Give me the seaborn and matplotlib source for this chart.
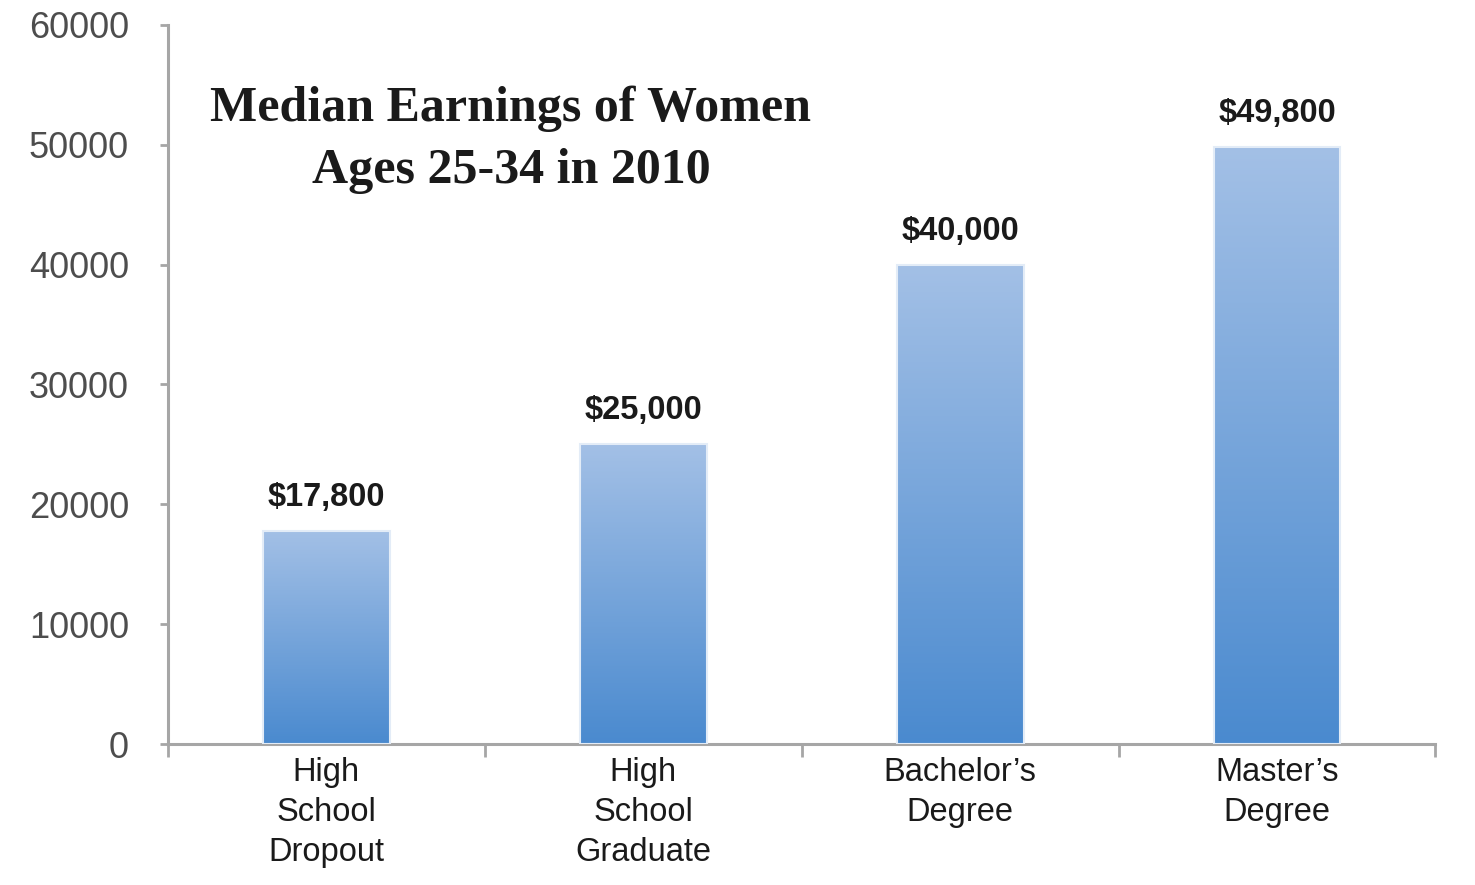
import matplotlib
matplotlib.use("Agg")
import matplotlib.pyplot as plt
import seaborn as sns
import numpy as np
import pandas as pd
from matplotlib.colors import LinearSegmentedColormap

# Data
categories = ["High\nSchool\nDropout", "High\nSchool\nGraduate",
              "Bachelor\u2019s\nDegree", "Master\u2019s\nDegree"]
earnings = [17800, 25000, 40000, 49800]
value_labels = ["$17,800", "$25,000", "$40,000", "$49,800"]
y_ticks = [0, 10000, 20000, 30000, 40000, 50000, 60000]
title = "Median Earnings of Women\nAges 25-34 in 2010"


def add_gradient(ax, cmap):
    # replace flat bar fill with a vertical gradient clipped to each bar
    grad = np.linspace(0, 1, 256).reshape(-1, 1)
    for patch in ax.patches:
        x0, y0 = patch.get_x(), patch.get_y()
        w, h = patch.get_width(), patch.get_height()
        im = ax.imshow(grad, cmap=cmap, aspect="auto", origin="lower",
                       extent=(x0, x0 + w, y0, y0 + h), zorder=2)
        im.set_clip_path(patch)
        patch.set_facecolor("none")
        patch.set_edgecolor("#e3ecf7")
        patch.set_linewidth(1.5)
        patch.set_zorder(3)


def main() -> None:
    sns.set_theme(style="white")
    plt.rcParams["font.family"] = ["Liberation Sans", "DejaVu Sans"]

    fig = plt.figure(figsize=(14.75, 8.85), dpi=100)
    ax = fig.add_axes([0.1139, 0.1593, 0.8593, 0.8125])

    df = pd.DataFrame({"level": categories, "earnings": earnings})
    sns.barplot(data=df, x="level", y="earnings", ax=ax, width=0.4,
                color="#6a9bd6")

    bar_cmap = LinearSegmentedColormap.from_list("bar", ["#4a8acf", "#a3c0e6"])
    add_gradient(ax, bar_cmap)

    # value labels above the bars
    for patch, lbl in zip(ax.patches, value_labels):
        ax.annotate(lbl, (patch.get_x() + patch.get_width() / 2, patch.get_height()),
                    xytext=(0, 13), textcoords="offset points",
                    ha="center", va="bottom", fontsize=23.5,
                    fontweight="bold", color="#1a1a1a")

    ax.set_xlim(-0.5, 3.5)
    ax.set_ylim(0, 60000)
    ax.set_xlabel("")
    ax.set_ylabel("")

    ax.set_yticks(y_ticks)
    ax.set_yticklabels([str(v) for v in y_ticks])
    ax.tick_params(axis="y", left=True, length=6, width=2, color="#a6a6a6",
                   pad=22, labelsize=26, labelcolor="#4d4d4d")

    ax.set_xticks([-0.5, 0.5, 1.5, 2.5, 3.5], minor=True)
    ax.tick_params(axis="x", which="major", length=0, pad=9,
                   labelsize=23.5, labelcolor="#1a1a1a")
    ax.tick_params(axis="x", which="minor", bottom=True, length=9, width=2,
                   color="#a6a6a6")
    for lbl in ax.get_xticklabels():
        lbl.set_linespacing(1.38)

    sns.despine(ax=ax)
    for side in ("left", "bottom"):
        ax.spines[side].set_color("#a6a6a6")
        ax.spines[side].set_linewidth(2.2)

    fig.text(511 / 1475, 1 - 86 / 885, title, ha="center", va="top",
             fontsize=36, fontweight="bold", color="#1a1a1a",
             family=["Liberation Serif", "DejaVu Serif"], linespacing=1.45)

    fig.savefig("out.png", dpi=100)


if __name__ == "__main__":
    main()
